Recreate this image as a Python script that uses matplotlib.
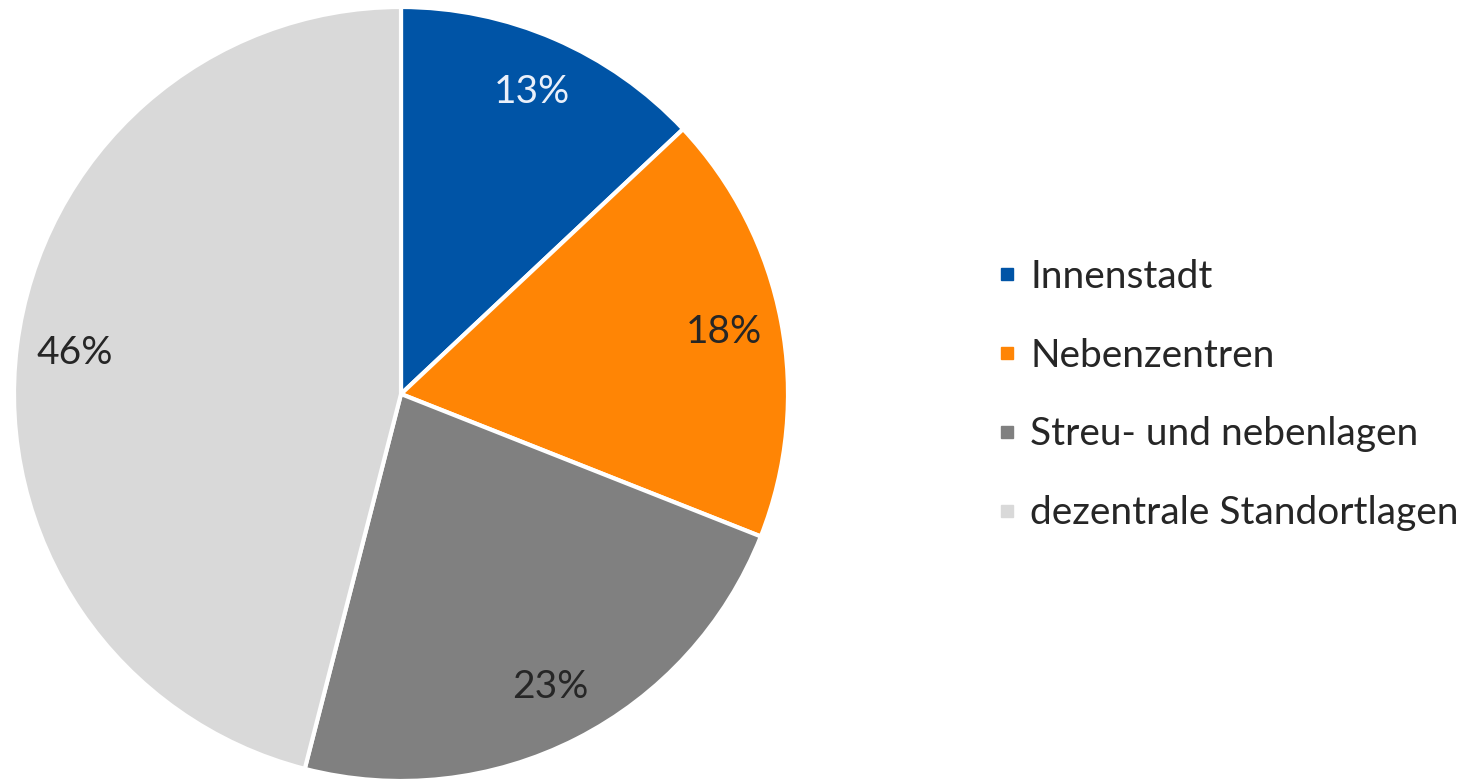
import matplotlib.pyplot as plt
from matplotlib.lines import Line2D

plt.rcParams['font.family'] = ['Lato', 'DejaVu Sans']

# DATA
categories = ['Innenstadt', 'Nebenzentren', 'Streu- und nebenlagen', 'dezentrale Standortlagen']
shares = [13, 18, 23, 46]
colors = ['#0054A6', '#FF8505', '#808080', '#D9D9D9']
label_colors = ['#EAF0FA', '#262626', '#262626', '#262626']

W, H = 1476, 781
fig = plt.figure(figsize=(W / 100, H / 100), dpi=100)

# pie axes, square in pixels
cx, cy, r = 401, 394, 387
ax = fig.add_axes([(cx - r) / W, (H - cy - r) / H, 2 * r / W, 2 * r / H])
wedges, texts, autotexts = ax.pie(
    shares, colors=colors, startangle=90, counterclock=False,
    autopct='%d%%', pctdistance=0.85,
    wedgeprops=dict(edgecolor='white', linewidth=3),
    textprops=dict(fontsize=28))
for t, c in zip(autotexts, label_colors):
    t.set_color(c)
ax.set_xlim(-1, 1)
ax.set_ylim(-1, 1)
ax.set_aspect('equal')
ax.axis('off')

handles = [Line2D([], [], marker='s', linestyle='none', markersize=8.5,
                  markerfacecolor=c, markeredgecolor=c) for c in colors]
fig.legend(handles, categories, loc='center left',
           bbox_to_anchor=(962 / W, 1 - 395 / H), frameon=False,
           fontsize=28, labelspacing=1.1, handlelength=0.5,
           handletextpad=0.35, labelcolor='#262626')

fig.savefig('out.png', dpi=100)
